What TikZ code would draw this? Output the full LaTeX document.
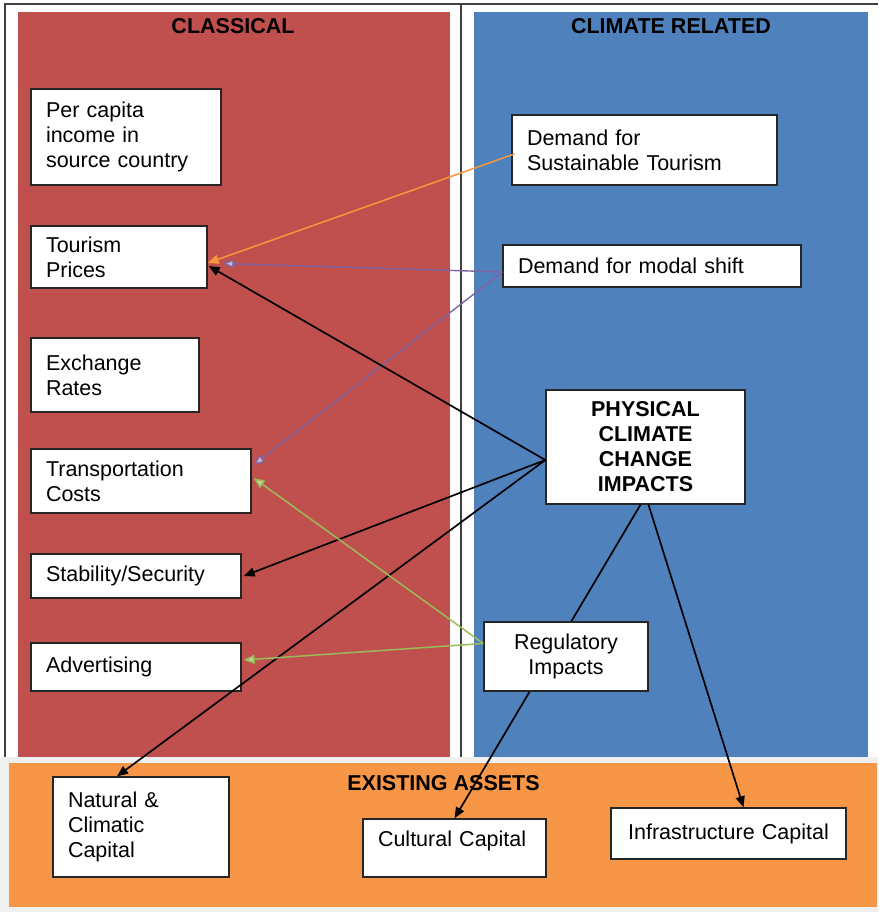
\documentclass[tikz,border=0pt]{standalone}
\usepackage{fontspec}
\setmainfont{Liberation Sans}
\usetikzlibrary{arrows.meta}
\definecolor{cred}{HTML}{C0504D}
\definecolor{cblue}{HTML}{4F81BD}
\definecolor{corange}{HTML}{F79646}
\definecolor{cgreen}{HTML}{9BBB59}
\definecolor{cpurple}{HTML}{8064A2}
\definecolor{carrow}{HTML}{F7963C}
\definecolor{cframe}{HTML}{404040}
\definecolor{cstrip}{HTML}{F0F0F0}
\begin{document}
\begin{tikzpicture}[x=1pt,y=-1pt,
  every node/.style={font=\fontsize{21.5}{25}\selectfont},
  box/.style={draw=black!85,line width=1.4pt,fill=white,rectangle,inner xsep=15pt,inner ysep=0pt,align=left},
  cbox/.style={draw=black!85,line width=1.4pt,fill=white,rectangle,inner xsep=6pt,inner ysep=0pt,align=center},
  title/.style={font=\fontsize{21.5}{25}\selectfont\bfseries},
  blk/.style={draw=black,line width=1.7pt,-{Triangle[length=11pt,width=9pt]}},
  org/.style={draw=carrow,line width=1.5pt,-{Triangle[length=11pt,width=9pt]}},
  pur/.style={draw=cpurple,line width=1.4pt,-{Triangle[length=11pt,width=9pt,fill=cpurple!45]}},
  grn/.style={draw=cgreen,line width=1.5pt,-{Triangle[length=11pt,width=9pt,fill=cgreen!60]}}]
\useasboundingbox (0,0) rectangle (878,912);
\fill[white] (0,0) rectangle (878,912);
% panels
\fill[cstrip] (0,757) rectangle (878,912);
\fill[cred] (18,12) rectangle (450,757);
\fill[cblue] (474,12) rectangle (868,757);
\fill[corange] (9,763) rectangle (877,907);
\draw[cframe,line width=1.5pt] (5,757) -- (5,4) -- (878,4);
\draw[cframe,line width=1.5pt] (461,4) -- (461,757);
% titles
\node[title] (tcl) at (233,26) {CLASSICAL};
\node[title] (tcr) at (671,26) {CLIMATE RELATED};
\node[title] (tea) at (443.5,783) {EXISTING ASSETS};
% classical nodes
\node[box,text width=160pt,minimum height=96pt] (pc) at (126,137) {Per capita\\income in\\source country};
\node[box,text width=146pt,minimum height=62pt] (tp) at (119,257) {Tourism\\Prices};
\node[box,text width=138pt,minimum height=74pt] (ex) at (115,375) {Exchange\\Rates};
\node[box,text width=190pt,minimum height=64pt] (tc) at (141,481) {Transportation\\Costs};
\node[box,text width=180pt,minimum height=44pt] (ss) at (136,576) {Stability/Security};
\node[box,text width=180pt,minimum height=48pt] (ad) at (136,667) {Advertising};
% climate nodes
\node[box,text width=235pt,minimum height=70pt] (su) at (644.5,150) {Demand for\\Sustainable Tourism};
\node[box,text width=268pt,minimum height=42pt] (mo) at (652,266) {Demand for modal shift};
\node[cbox,text width=187pt,minimum height=114pt,font=\fontsize{21.5}{25}\selectfont\bfseries] (ph) at (645.5,447) {PHYSICAL\\CLIMATE\\CHANGE\\IMPACTS};
% asset nodes
\node[box,text width=146pt,minimum height=100pt] (na) at (141,827) {Natural \&\\Climatic\\Capital};
\node[box,text width=153pt,minimum height=58pt,text depth=18pt] (cu) at (454.5,848) {Cultural Capital};
\node[cbox,text width=223pt,minimum height=51pt] (in) at (728.5,833.5) {Infrastructure Capital};
% line hidden behind Regulatory box
\draw[blk] ([xshift=-5pt]ph.south) -- (cu.north);
\node[cbox,text width=152pt,minimum height=69pt] (re) at (566,656.5) {Regulatory\\Impacts};
% connectors
\draw[org] ([xshift=3pt,yshift=-4pt]su.west) -- ([yshift=-6pt]tp.east);
\draw[pur,shorten >=15pt] ([yshift=-6pt]mo.west) -- ([yshift=-6pt]tp.east);
\draw[pur] ([yshift=-6pt]mo.west) -- ([xshift=2pt,yshift=16pt]tc.east);
\draw[blk] ([yshift=-13pt]ph.west) -- ([xshift=1pt,yshift=-9pt]tp.east);
\draw[blk] ([yshift=-13pt]ph.west) -- ([xshift=2pt]ss.east);
\draw[blk] ([yshift=-13pt]ph.west) -- ([xshift=-24pt]na.north);
\draw[grn] ([yshift=13pt]re.west) -- ([xshift=2pt,yshift=3pt]tc.east);
\draw[grn] ([yshift=13pt]re.west) -- ([xshift=2pt,yshift=7pt]ad.east);
\draw[blk] ([xshift=3pt]ph.south) -- ([xshift=15pt]in.north);
\end{tikzpicture}
\end{document}
